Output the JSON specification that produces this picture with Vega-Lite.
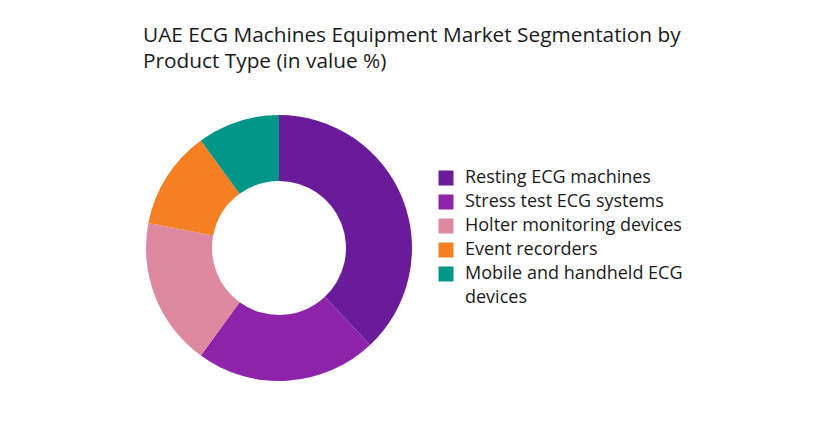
{
  "$schema": "https://vega.github.io/schema/vega-lite/v6.json",
  "width": 558,
  "height": 296,
  "autosize": {"type": "none"},
  "padding": {"left": 0, "top": 100, "right": 261, "bottom": 48},
  "background": "white",
  "title": {
    "text": ["UAE ECG Machines Equipment Market Segmentation by", "Product Type (in value %)"],
    "anchor": "start",
    "frame": "group",
    "dx": 143,
    "offset": 27,
    "font": "Open Sans",
    "fontSize": 20.8,
    "fontWeight": "normal",
    "lineHeight": 26,
    "color": "#1a1a1a"
  },
  "data": {
    "values": [
      {"segment": "Resting ECG machines", "share": 38, "rank": 1},
      {"segment": "Stress test ECG systems", "share": 22, "rank": 2},
      {"segment": "Holter monitoring devices", "share": 18, "rank": 3},
      {"segment": "Event recorders", "share": 12, "rank": 4},
      {"segment": "Mobile and handheld ECG devices", "share": 10, "rank": 5}
    ]
  },
  "mark": {"type": "arc", "outerRadius": 133, "innerRadius": 67},
  "encoding": {
    "theta": {"field": "share", "type": "quantitative", "stack": true},
    "order": {"field": "rank", "type": "quantitative"},
    "color": {
      "field": "segment",
      "type": "nominal",
      "scale": {
        "domain": ["Resting ECG machines", "Stress test ECG systems", "Holter monitoring devices", "Event recorders", "Mobile and handheld ECG devices"],
        "range": ["#6A1B9A", "#8E24AA", "#DF89A1", "#F58023", "#009688"]
      },
      "legend": {
        "title": null,
        "orient": "none",
        "legendX": 437,
        "legendY": 69,
        "symbolType": "square",
        "symbolSize": 225,
        "symbolStrokeWidth": 0,
        "labelFont": "Open Sans",
        "labelFontSize": 18,
        "labelColor": "#1a1a1a",
        "labelOffset": 10,
        "labelLimit": 400,
        "rowPadding": 6,
        "labelExpr": "datum.label == 'Mobile and handheld ECG devices' ? ['Mobile and handheld ECG', 'devices'] : datum.label"
      }
    }
  },
  "config": {
    "view": {"stroke": null},
    "style": {"guide-label": {"lineHeight": 24}}
  }
}
